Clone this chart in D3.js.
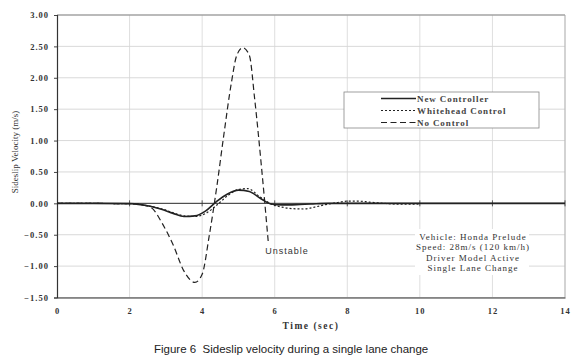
<!DOCTYPE html>
<html>
<head>
<meta charset="utf-8">
<script src="https://cdn.jsdelivr.net/npm/d3@7"></script>
<style>
  html, body { margin: 0; padding: 0; background: #fff; }
  svg { display: block; }
  text { white-space: pre; }
</style>
</head>
<body>
<svg id="chart" width="580" height="361"></svg>
<script>
// ---- data ----
const xTicks = [0, 2, 4, 6, 8, 10, 12, 14];
const yTicks = [-1.5, -1.0, -0.5, 0, 0.5, 1.0, 1.5, 2.0, 2.5, 3.0];

const newTime = [0, 1, 2, 2.3, 2.6, 2.9, 3.2, 3.5, 3.8, 4.1, 4.4, 4.7, 5.0, 5.3, 5.6, 5.9, 6.2, 6.6, 7.0, 7.5, 8, 9, 10, 11, 12, 13, 14];
const newCtrl = [0, 0, -0.005, -0.02, -0.05, -0.1, -0.16, -0.21, -0.2, -0.12, 0.03, 0.15, 0.21, 0.19, 0.08, -0.01, -0.025, -0.02, -0.01, 0, 0, 0, 0, 0, 0, 0, 0];

const whTime = [0, 2, 2.3, 2.6, 2.9, 3.2, 3.5, 3.8, 4.1, 4.4, 4.7, 5.0, 5.25, 5.6, 5.9, 6.2, 6.5, 6.8, 7.1, 7.4, 7.7, 8.0, 8.3, 8.6, 9.0, 9.5, 10];
const whitehead = [0, -0.005, -0.02, -0.05, -0.09, -0.15, -0.2, -0.21, -0.16, -0.03, 0.12, 0.22, 0.235, 0.1, -0.01, -0.06, -0.085, -0.09, -0.06, -0.02, 0.01, 0.035, 0.035, 0.02, 0.0, -0.015, -0.01];

const ncTime = [0, 2, 2.3, 2.6, 2.9, 3.2, 3.5, 3.8, 4.0, 4.2, 4.4, 4.6, 4.8, 4.95, 5.12, 5.3, 5.45, 5.65, 5.82];
const noControl = [0, -0.005, -0.02, -0.07, -0.32, -0.66, -1.08, -1.26, -1.13, -0.5, 0.25, 1.1, 1.9, 2.35, 2.48, 2.36, 1.65, 0.49, -0.6];

const legendLabels = ["New Controller", "Whitehead Control", "No Control"];
const noteLines = ["Vehicle: Honda Prelude", "Speed: 28m/s (120 km/h)", "Driver Model Active", "Single Lane Change"];

// ---- drawing ----
const svg = d3.select("#chart");
const x = d3.scaleLinear().domain([0, 14]).range([57, 565]);
const y = d3.scaleLinear().domain([-1.5, 3]).range([297.5, 15]);
const serif = "'Liberation Serif', 'Times New Roman', serif";
const sans = "'Liberation Sans', Arial, sans-serif";
const ink = "#222";

// gridlines
svg.append("g").selectAll("line").data(yTicks).join("line")
  .attr("x1", x(0)).attr("x2", x(14))
  .attr("y1", d => y(d)).attr("y2", d => y(d))
  .attr("stroke", "#cfcfcf").attr("stroke-width", 0.8);
svg.append("g").selectAll("line").data(xTicks.slice(1)).join("line")
  .attr("x1", d => x(d)).attr("x2", d => x(d))
  .attr("y1", y(3)).attr("y2", y(-1.5))
  .attr("stroke", "#d6d6d6").attr("stroke-width", 0.8);

// frame
svg.append("line").attr("x1", x(0)).attr("x2", x(14)).attr("y1", y(3)).attr("y2", y(3))
  .attr("stroke", "#888").attr("stroke-width", 1);
svg.append("line").attr("x1", x(14)).attr("x2", x(14)).attr("y1", y(3)).attr("y2", y(-1.5))
  .attr("stroke", "#aaa").attr("stroke-width", 0.8);

// zero axis with cross ticks
svg.append("line").attr("x1", x(0)).attr("x2", x(14)).attr("y1", y(0)).attr("y2", y(0))
  .attr("stroke", "#333").attr("stroke-width", 1);
svg.append("g").selectAll("line").data(xTicks.slice(1)).join("line")
  .attr("x1", d => x(d)).attr("x2", d => x(d))
  .attr("y1", y(0) - 3).attr("y2", y(0) + 3)
  .attr("stroke", "#333").attr("stroke-width", 0.8);

// y axis
const yAxis = svg.append("g").attr("transform", `translate(${x(0)},0)`)
  .call(d3.axisLeft(y).tickValues(yTicks).tickFormat(d3.format(".2f")).tickSize(3).tickPadding(5));
yAxis.select(".domain").attr("stroke", "#333").attr("stroke-width", 1.2);
yAxis.selectAll(".tick line").attr("stroke", "#444");
yAxis.selectAll("text").attr("font-family", serif).attr("font-size", 8.5)
  .attr("font-weight", "bold").attr("letter-spacing", "1px").attr("fill", "#333");

// x axis at bottom
const xAxis = svg.append("g").attr("transform", `translate(0,${y(-1.5)})`)
  .call(d3.axisBottom(x).tickValues(xTicks).tickFormat(d3.format("d")).tickSize(0).tickPadding(10));
xAxis.select(".domain").attr("stroke", "#333").attr("stroke-width", 1.2);
xAxis.selectAll("text").attr("font-family", serif).attr("font-size", 8.5)
  .attr("font-weight", "bold").attr("letter-spacing", "1px").attr("fill", "#333");

// axis titles
svg.append("text").attr("x", 311).attr("y", 329).attr("text-anchor", "middle")
  .attr("font-family", serif).attr("font-size", 9.5).attr("font-weight", "bold")
  .attr("letter-spacing", "1.5px").attr("fill", "#333").text("Time (sec)");
svg.append("text").attr("transform", "translate(18,152) rotate(-90)").attr("text-anchor", "middle")
  .attr("font-family", serif).attr("font-size", 9).attr("fill", "#333")
  .text("Sideslip Velocity (m/s)");

// series
const line = d3.line().x(d => x(d[0])).y(d => y(d[1])).curve(d3.curveMonotoneX);
const series = [
  { t: newTime, v: newCtrl, dash: null, w: 1.6 },
  { t: whTime, v: whitehead, dash: "2,2", w: 1.2 },
  { t: ncTime, v: noControl, dash: "6,3.5", w: 1.2 }
];
series.forEach(s => {
  svg.append("path").datum(s.t.map((t, i) => [t, s.v[i]]))
    .attr("d", line).attr("fill", "none").attr("stroke", ink)
    .attr("stroke-width", s.w).attr("stroke-dasharray", s.dash);
});

// legend
const lg = svg.append("g");
lg.append("rect").attr("x", 344).attr("y", 92).attr("width", 195).attr("height", 36)
  .attr("fill", "#fff").attr("stroke", "#888").attr("stroke-width", 0.8);
legendLabels.forEach((lab, i) => {
  const yy = 98.5 + i * 12;
  lg.append("line").attr("x1", 381).attr("x2", 416).attr("y1", yy).attr("y2", yy)
    .attr("stroke", ink).attr("stroke-width", series[i].w).attr("stroke-dasharray", series[i].dash);
  lg.append("text").attr("x", 417).attr("y", yy + 3).attr("font-family", serif)
    .attr("font-size", 9).attr("font-weight", "bold").attr("letter-spacing", "0.9px")
    .attr("fill", "#444").text(lab);
});

// annotation box
svg.append("rect").attr("x", 415).attr("y", 229).attr("width", 114).attr("height", 46).attr("fill", "#fff");
noteLines.forEach((s, i) => {
  svg.append("text").attr("x", 473).attr("y", 240 + i * 10.4).attr("text-anchor", "middle")
    .attr("font-family", serif).attr("font-size", 9).attr("letter-spacing", "1px")
    .attr("fill", "#333").text(s);
});

// unstable label
svg.append("text").attr("x", x(5.82) - 3).attr("y", 254)
  .attr("font-family", sans).attr("font-size", 9)
  .attr("letter-spacing", "1px").attr("fill", "#333").text("Unstable");

// caption
svg.append("text").attr("x", 154).attr("y", 353)
  .attr("font-family", sans).attr("font-size", 11.5).attr("fill", "#222")
  .text("Figure 6  Sideslip velocity during a single lane change");
</script>
</body>
</html>
